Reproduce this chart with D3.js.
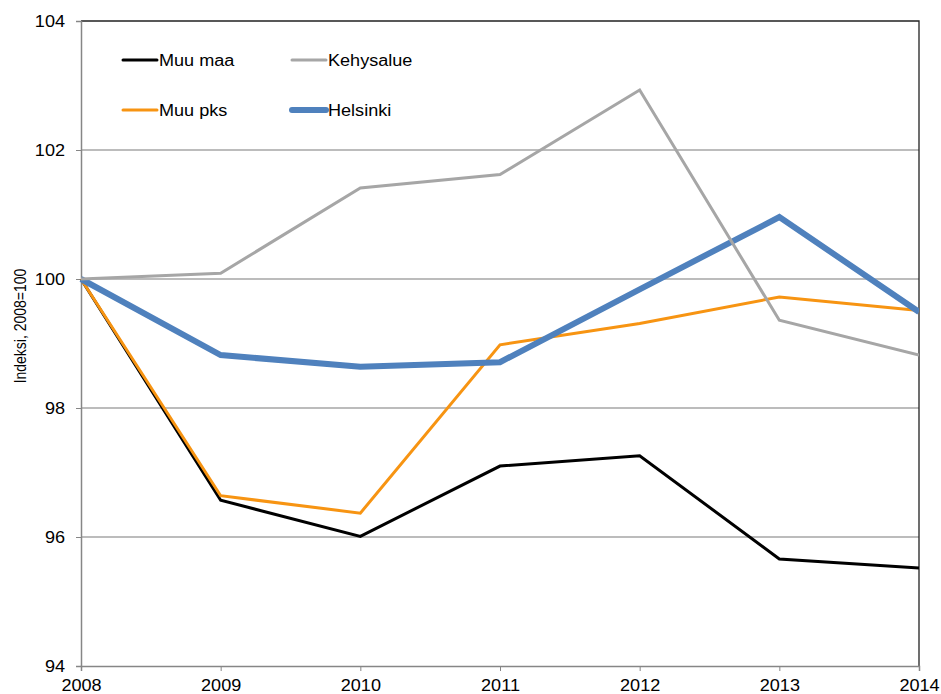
<!DOCTYPE html>
<html>
<head>
    <meta charset="UTF-8">
    <title>Indeksi</title>
    <script src="https://cdn.jsdelivr.net/npm/d3@7"></script>
    <style>
        body { margin: 0; background: #fff; }
        text { font-family: "Liberation Sans", Arial, sans-serif; fill: #000; }
        .line { fill: none; stroke-linejoin: miter; }
    </style>
</head>
<body>
<div id="chart"></div>
<script>
    // years on the x axis
    const years = [2008, 2009, 2010, 2011, 2012, 2013, 2014];

    // series values (index, 2008 = 100)
    const muuMaa    = [100, 96.57, 96.01, 97.10, 97.26, 95.66, 95.52];
    const kehysalue = [100, 100.09, 101.41, 101.62, 102.93, 99.36, 98.82];
    const muuPks    = [100, 96.64, 96.37, 98.98, 99.31, 99.72, 99.51];
    const helsinki  = [100, 98.82, 98.64, 98.71, 99.84, 100.96, 99.49];

    const yTicks = [94, 96, 98, 100, 102, 104];

    const series = [
        { name: 'Muu maa', values: muuMaa, color: '#000000', width: 3 },
        { name: 'Muu pks', values: muuPks, color: '#f79412', width: 3 },
        { name: 'Helsinki', values: helsinki, color: '#4f81bd', width: 6 },
        { name: 'Kehysalue', values: kehysalue, color: '#a6a6a6', width: 3 }
    ];

    const legendOrder = ['Muu maa', 'Kehysalue', 'Muu pks', 'Helsinki'];

    // the picture is a bit wider than tall, text too
    const stretch = 1.13;

    const W = 941, H = 694;
    const margin = { top: 21, right: 22, bottom: 28, left: 81 };
    const width = W - margin.left - margin.right;
    const height = H - margin.top - margin.bottom;

    function widen(sel) {
        sel.attr('transform', function () {
            const t = d3.select(this);
            const px = +t.attr('x') || 0;
            const py = +t.attr('y') || 0;
            return `translate(${px},${py}) scale(${stretch},1) translate(${-px},${-py})`;
        });
    }

    const svg = d3.select('#chart')
        .append('svg')
        .attr('width', W)
        .attr('height', H);

    const g = svg.append('g')
        .attr('transform', `translate(${margin.left},${margin.top})`);

    const x = d3.scaleLinear()
        .domain(d3.extent(years))
        .range([0, width]);

    const y = d3.scaleLinear()
        .domain([94, 104])
        .range([height, 0]);

    // gridlines
    g.append('g')
        .selectAll('line')
        .data(yTicks.slice(1, -1))
        .enter()
        .append('line')
        .attr('x1', 0)
        .attr('x2', width)
        .attr('y1', d => y(d))
        .attr('y2', d => y(d))
        .attr('stroke', '#a6a6a6')
        .attr('stroke-width', 1.3);

    // plot frame top + right
    g.append('path')
        .attr('d', `M0,${y(104)}H${width}V${height}`)
        .attr('fill', 'none')
        .attr('stroke', '#222')
        .attr('stroke-width', 1.3);

    // y axis
    const yAxis = g.append('g')
        .call(d3.axisLeft(y).tickValues(yTicks).tickSize(5).tickPadding(11).tickFormat(d3.format('d')));
    yAxis.select('.domain').attr('stroke', '#868686').attr('stroke-width', 1.5);
    yAxis.selectAll('.tick line').attr('stroke', '#868686');
    yAxis.selectAll('.tick text').style('font-size', '16px').call(widen);

    // x axis
    const xAxis = g.append('g')
        .attr('transform', `translate(0,${height})`)
        .call(d3.axisBottom(x).tickValues(years).tickSize(5).tickPadding(9).tickFormat(d3.format('d')));
    xAxis.select('.domain').attr('stroke', '#868686').attr('stroke-width', 1.5);
    xAxis.selectAll('.tick line').attr('stroke', '#868686');
    xAxis.selectAll('.tick text').style('font-size', '16px').call(widen);

    // y axis title
    svg.append('text')
        .attr('transform', `translate(26,326) scale(1.2,1) rotate(-90)`)
        .attr('text-anchor', 'middle')
        .style('font-size', '14px')
        .text('Indeksi, 2008=100');

    // lines
    const line = d3.line()
        .x((d, i) => x(years[i]))
        .y(d => y(d));

    g.append('defs').append('clipPath')
        .attr('id', 'clip')
        .append('rect')
        .attr('x', -10)
        .attr('y', -10)
        .attr('width', width + 10)
        .attr('height', height + 20);

    g.append('g')
        .attr('clip-path', 'url(#clip)')
        .selectAll('path')
        .data(series)
        .enter()
        .append('path')
        .attr('class', 'line')
        .attr('d', d => line(d.values))
        .attr('stroke', d => d.color)
        .attr('stroke-width', d => d.width);

    // legend
    const legendPos = [
        { x: 123, y: 60 }, { x: 292, y: 60 },
        { x: 123, y: 110 }, { x: 292, y: 110 }
    ];
    const legend = svg.append('g')
        .selectAll('g')
        .data(legendOrder.map(n => series.find(s => s.name === n)))
        .enter()
        .append('g')
        .attr('transform', (d, i) => `translate(${legendPos[i].x},${legendPos[i].y})`);

    legend.append('line')
        .attr('x1', 0)
        .attr('x2', 34)
        .attr('stroke', d => d.color)
        .attr('stroke-width', d => d.width)
        .attr('stroke-linecap', 'round');

    legend.append('text')
        .attr('x', 36)
        .attr('dy', '0.35em')
        .style('font-size', '16px')
        .text(d => d.name)
        .call(widen);
</script>
</body>
</html>
